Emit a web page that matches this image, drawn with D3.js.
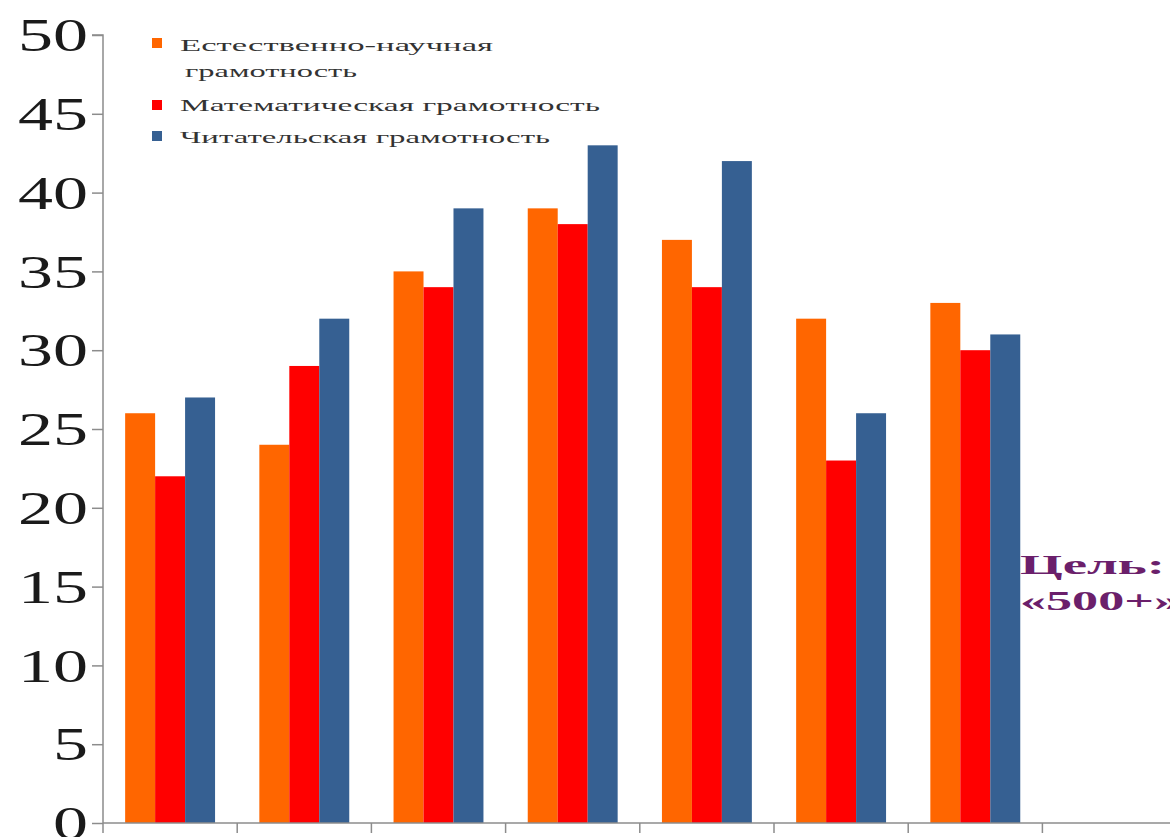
<!DOCTYPE html>
<html>
<head>
<meta charset="utf-8">
<script src="https://cdn.jsdelivr.net/npm/d3@7"></script>
<style>
  html, body { margin: 0; padding: 0; background: #ffffff; }
  svg { display: block; }
</style>
</head>
<body>
<svg id="chart" width="1170" height="837"></svg>
<script>
// ---- data ----
const categories = ["1", "2", "3", "4", "5", "6", "7", "8"];
const seriesNames = ["Естественно-научная грамотность", "Математическая грамотность", "Читательская грамотность"];
const science = [26, 24, 35, 39, 37, 32, 33, null];
const math    = [22, 29, 34, 38, 34, 23, 30, null];
const reading = [27, 32, 39, 43, 42, 26, 31, null];
const yTicks = [0, 5, 10, 15, 20, 25, 30, 35, 40, 45, 50];
const colors = ["#ff6600", "#ff0000", "#366092"];
const goalLines = ["Цель:", "«500+»"];

(function () {
const seriesValues = [science, math, reading];

const svg = d3.select("#chart");
const mLeft = 103, mBottom = 823, mTop = 35;
const step = 134.2;

const x0 = d3.scaleBand()
  .domain(categories)
  .range([mLeft, mLeft + step * categories.length])
  .paddingInner(0).paddingOuter(0);

const x1 = d3.scaleBand()
  .domain(d3.range(seriesNames.length))
  .range([x0.bandwidth() * 0.165, x0.bandwidth() * 0.835])
  .padding(0);

const y = d3.scaleLinear().domain([0, 50]).range([mBottom, mTop]);

// bars
categories.forEach((c, ci) => {
  const g = svg.append("g").attr("transform", `translate(${x0(c)},0)`);
  seriesValues.forEach((vals, si) => {
    const v = vals[ci];
    if (v == null) return;
    g.append("rect")
      .attr("x", x1(si))
      .attr("width", x1.bandwidth())
      .attr("y", y(v))
      .attr("height", y(0) - y(v))
      .attr("fill", colors[si]);
  });
});

// y axis
const yAxis = d3.axisLeft(y).tickValues(yTicks).tickSize(11).tickPadding(4);
const yg = svg.append("g").attr("transform", `translate(${mLeft},0)`).call(yAxis);
yg.select(".domain").attr("stroke", "#8c8c8c").attr("stroke-width", 1.5)
  .attr("d", `M-11,${y(50)}H0V${y(0)}`);
yg.selectAll(".tick line").attr("stroke", "#8c8c8c").attr("stroke-width", 1.5);
yg.selectAll(".tick text")
  .attr("font-family", "'Liberation Serif', 'DejaVu Serif', serif")
  .attr("font-size", 46)
  .attr("fill", "#1a1a1a")
  .attr("dy", "0.34em")
  .attr("lengthAdjust", "spacingAndGlyphs")
  .attr("textLength", d => String(d).length * 35);

// x axis
const xg = svg.append("g");
xg.append("line")
  .attr("x1", mLeft).attr("x2", 1170)
  .attr("y1", mBottom).attr("y2", mBottom)
  .attr("stroke", "#8c8c8c").attr("stroke-width", 1.5);
xg.selectAll("line.xt")
  .data(categories)
  .join("line")
  .attr("class", "xt")
  .attr("x1", d => x0(d)).attr("x2", d => x0(d))
  .attr("y1", mBottom).attr("y2", mBottom + 10)
  .attr("stroke", "#8c8c8c").attr("stroke-width", 1.5);

// legend
const legendFont = "'Liberation Serif', 'DejaVu Serif', serif";
const legendItems = [
  { sq: 38, lines: [["Естественно-научная", 51, 180, 313], ["грамотность", 77, 185, 172]] },
  { sq: 100, lines: [["Математическая грамотность", 111, 180, 420]] },
  { sq: 131, lines: [["Читательская грамотность", 143, 180, 370]] }
];
legendItems.forEach((it, i) => {
  svg.append("rect").attr("x", 152).attr("y", it.sq).attr("width", 10).attr("height", 10)
    .attr("fill", colors[i]);
  it.lines.forEach(([t, yy, xx, w]) => {
    svg.append("text")
      .attr("x", xx).attr("y", yy)
      .attr("font-family", legendFont)
      .attr("font-size", 17)
      .attr("fill", "#333333")
      .attr("lengthAdjust", "spacingAndGlyphs")
      .attr("textLength", w)
      .text(t);
  });
});

// goal annotation
const goalPos = [[574, 145], [610, 160]];
goalLines.forEach((t, i) => {
  svg.append("text")
    .attr("x", 1020).attr("y", goalPos[i][0])
    .attr("font-family", "'Liberation Serif', 'DejaVu Serif', serif")
    .attr("font-weight", "bold")
    .attr("font-size", 28)
    .attr("fill", "#6b1f6b")
    .attr("lengthAdjust", "spacingAndGlyphs")
    .attr("textLength", goalPos[i][1])
    .text(t);
});
})();
</script>
</body>
</html>
